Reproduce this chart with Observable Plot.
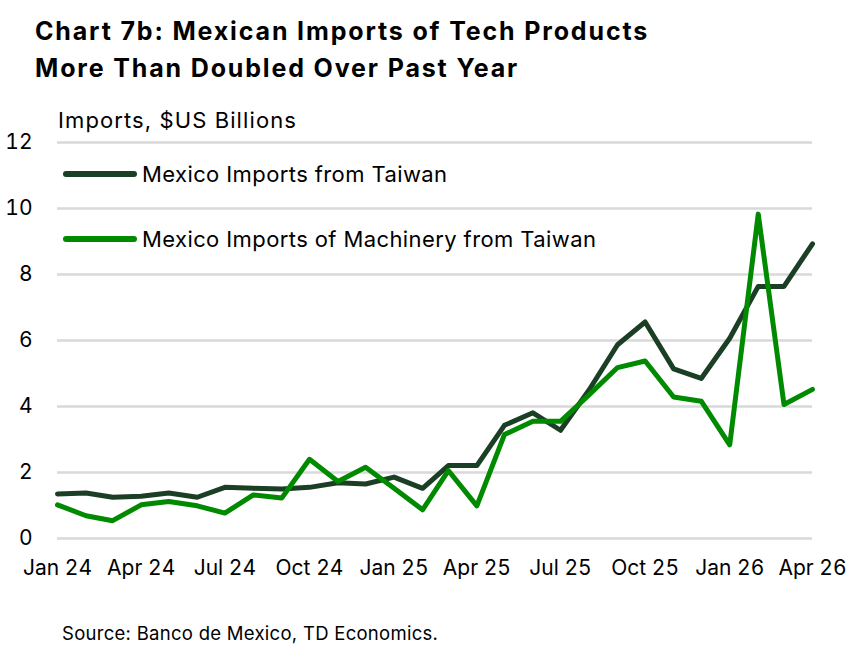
<!DOCTYPE html>
<html>
<head>
<meta charset="utf-8">
<script src="https://cdn.jsdelivr.net/npm/d3@7"></script>
<script src="https://cdn.jsdelivr.net/npm/@observablehq/plot@0.6"></script>
<style>
  html, body { margin: 0; padding: 0; background: #fff; }
  body { width: 868px; height: 648px; position: relative; overflow: hidden; font-family: Inter, "Noto Sans", sans-serif; color: #000; }
  #title { position: absolute; left: 35px; top: 13px; font-family: Inter, sans-serif; font-weight: 700; font-size: 25px; line-height: 37px; letter-spacing: 1.85px; }
  #chart { position: absolute; left: 0; top: 95px; }
  #ylabel { position: absolute; left: 58px; top: 109px; font-size: 22px; line-height: 22px; letter-spacing: 1.1px; white-space: nowrap; }
  #legend { position: absolute; left: 63px; top: 158px; font-size: 22px; letter-spacing: 0.4px; }
  .item { display: flex; align-items: center; height: 32px; margin-bottom: 33px; }
  .item svg { margin-right: 5px; }
  #source { position: absolute; left: 62px; top: 622px; font-size: 18.5px; letter-spacing: 0.28px; }
</style>
</head>
<body>
<div id="title">Chart 7b: Mexican Imports of Tech Products<br>More Than Doubled Over Past Year</div>
<div id="chart"></div>
<div id="ylabel">Imports, $US Billions</div>
<div id="legend"></div>
<div id="source">Source: Banco de Mexico, TD Economics.</div>
<script>
const months = ["2024-01","2024-02","2024-03","2024-04","2024-05","2024-06","2024-07","2024-08","2024-09","2024-10","2024-11","2024-12",
                "2025-01","2025-02","2025-03","2025-04","2025-05","2025-06","2025-07","2025-08","2025-09","2025-10","2025-11","2025-12",
                "2026-01","2026-02","2026-03","2026-04"];
const importsFromTaiwan = [1.35,1.38,1.25,1.28,1.38,1.25,1.55,1.52,1.50,1.55,1.69,1.65,
                           1.86,1.52,2.21,2.21,3.43,3.81,3.28,4.50,5.87,6.56,5.14,4.85,
                           6.07,7.64,7.64,8.93];
const machineryFromTaiwan = [1.02,0.69,0.54,1.02,1.12,0.99,0.77,1.32,1.23,2.40,1.73,2.16,
                             1.52,0.87,2.06,0.99,3.15,3.55,3.55,4.35,5.18,5.38,4.29,4.16,
                             2.84,9.83,4.06,4.52];
const seriesNames = ["Mexico Imports from Taiwan", "Mexico Imports of Machinery from Taiwan"];
const seriesColors = ["#1b3f25", "#008a00"];
const yTicks = [0, 2, 4, 6, 8, 10, 12];
const xTickMonths = ["2024-01","2024-04","2024-07","2024-10","2025-01","2025-04","2025-07","2025-10","2026-01","2026-04"];

const parse = d3.utcParse("%Y-%m");
const data = [];
months.forEach((m, i) => {
  data.push({date: parse(m), value: importsFromTaiwan[i], series: seriesNames[0]});
  data.push({date: parse(m), value: machineryFromTaiwan[i], series: seriesNames[1]});
});

const chart = Plot.plot({
  width: 868,
  height: 505,
  marginLeft: 57,
  marginRight: 56,
  marginTop: 47,
  marginBottom: 62,
  style: {fontFamily: "Inter, 'Noto Sans', sans-serif", fontSize: "21px", color: "#000", background: "transparent"},
  x: {type: "utc", domain: [parse(months[0]), parse(months[months.length - 1])], label: null},
  y: {domain: [0, 12], label: null},
  color: {domain: seriesNames, range: seriesColors},
  marks: [
    Plot.gridY(yTicks, {stroke: "#d9d9d9", strokeOpacity: 1, strokeWidth: 2.5}),
    Plot.axisY({ticks: yTicks, tickSize: 0, tickPadding: 25, label: null, fontSize: 21}),
    Plot.axisX({ticks: xTickMonths.map(parse), tickFormat: d3.utcFormat("%b %y"), tickSize: 0, tickPadding: 22, label: null, fontSize: 21}),
    Plot.line(data, {x: "date", y: "value", z: "series", stroke: "series", strokeWidth: 5, strokeLinejoin: "round"})
  ]
});
document.getElementById("chart").appendChild(chart);

const legend = document.getElementById("legend");
seriesNames.forEach((name, i) => {
  const div = document.createElement("div");
  div.className = "item";
  div.innerHTML = `<svg width="74" height="10"><line x1="3" y1="5" x2="71" y2="5" stroke="${seriesColors[i]}" stroke-width="6" stroke-linecap="round"/></svg><span>${name}</span>`;
  legend.appendChild(div);
});
</script>
</body>
</html>
